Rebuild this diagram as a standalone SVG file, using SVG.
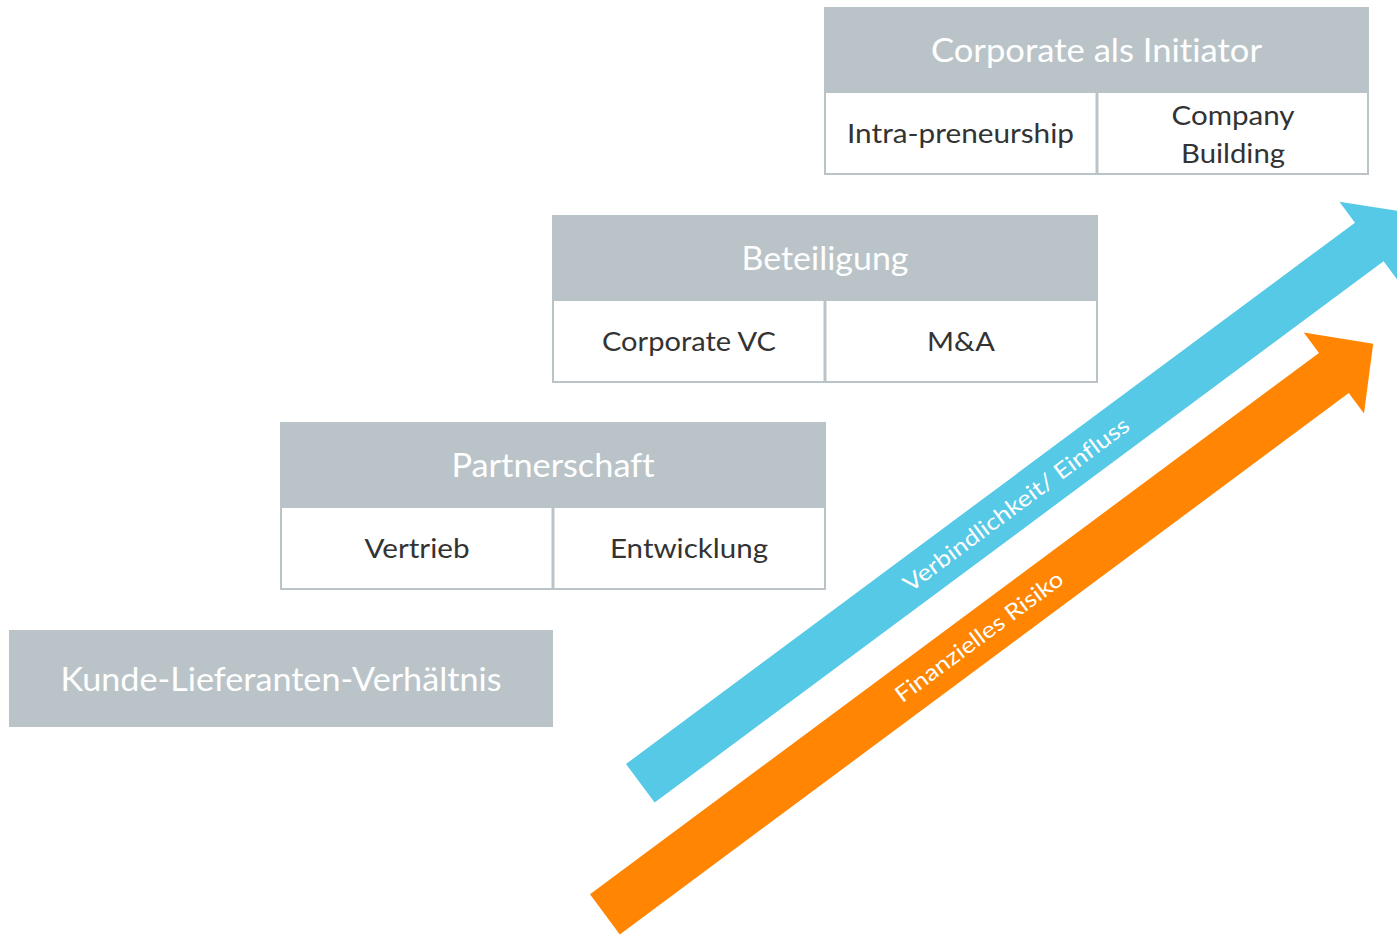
<svg xmlns="http://www.w3.org/2000/svg" width="1397" height="935" viewBox="0 0 1397 935">
  <style>
    text { font-variant-ligatures: none; }
    .head { fill: #BAC4C8; }
    .cell { fill: #FFFFFF; stroke: #BAC4C8; stroke-width: 2; }
    .div { stroke: #BAC4C8; stroke-width: 3; }
    .ttl { font-family: Lato, "Liberation Sans", sans-serif; font-size: 33px; fill: #FFFFFF; text-anchor: middle; }
    .txt { font-family: Lato, "Liberation Sans", sans-serif; font-size: 26.5px; fill: #333333; text-anchor: middle; }
    .lbl { font-family: Lato, "Liberation Sans", sans-serif; font-size: 22.5px; fill: #FFFFFF; text-anchor: middle; }
  </style>
  <rect width="1397" height="935" fill="#FFFFFF"/>

  <!-- trend arrows -->
  <g id="connectors">
    <g id="arrow-verbindlichkeit" transform="translate(626,764) rotate(-36.6)">
      <path d="M0,0 H908 V-26 L957,24 L908,74 V48 H0 Z" fill="#55C9E6"/>
      <text class="lbl" x="468" y="32" textLength="275" lengthAdjust="spacingAndGlyphs">Verbindlichkeit/ Einfluss</text>
    </g>
    <g id="arrow-risiko" transform="translate(590,894.3) rotate(-36.6)">
      <path d="M0,0 H908 V-25.5 L957,25 L908,75.5 V50 H0 Z" fill="#FF8503"/>
      <text class="lbl" x="466" y="33" textLength="203" lengthAdjust="spacingAndGlyphs">Finanzielles Risiko</text>
    </g>
  </g>

  <!-- level 4 -->
  <g id="node-corporate-initiator">
    <rect class="head" x="824" y="7" width="545" height="85"/>
    <text class="ttl" x="1096.5" y="62" textLength="331" lengthAdjust="spacingAndGlyphs">Corporate als Initiator</text>
    <rect class="cell" x="825" y="92" width="543" height="82"/>
    <line class="div" x1="1097" y1="92" x2="1097" y2="174"/>
    <text class="txt" x="960.5" y="143" textLength="227" lengthAdjust="spacingAndGlyphs">Intra-preneurship</text>
    <text class="txt" x="1233" y="125" textLength="123" lengthAdjust="spacingAndGlyphs">Company</text>
    <text class="txt" x="1233" y="163" textLength="104" lengthAdjust="spacingAndGlyphs">Building</text>
  </g>

  <!-- level 3 -->
  <g id="node-beteiligung">
    <rect class="head" x="552" y="215" width="546" height="85"/>
    <text class="ttl" x="825" y="270" textLength="167" lengthAdjust="spacingAndGlyphs">Beteiligung</text>
    <rect class="cell" x="553" y="300" width="544" height="82"/>
    <line class="div" x1="825" y1="300" x2="825" y2="382"/>
    <text class="txt" x="689" y="351" textLength="174" lengthAdjust="spacingAndGlyphs">Corporate VC</text>
    <text class="txt" x="961" y="351" textLength="68" lengthAdjust="spacingAndGlyphs">M&amp;A</text>
  </g>

  <!-- level 2 -->
  <g id="node-partnerschaft">
    <rect class="head" x="280" y="422" width="546" height="85"/>
    <text class="ttl" x="553" y="477" textLength="203" lengthAdjust="spacingAndGlyphs">Partnerschaft</text>
    <rect class="cell" x="281" y="507" width="544" height="82"/>
    <line class="div" x1="553" y1="507" x2="553" y2="589"/>
    <text class="txt" x="417" y="558" textLength="105" lengthAdjust="spacingAndGlyphs">Vertrieb</text>
    <text class="txt" x="689" y="558" textLength="158" lengthAdjust="spacingAndGlyphs">Entwicklung</text>
  </g>

  <!-- level 1 -->
  <g id="node-kunde-lieferant">
    <rect class="head" x="9" y="630" width="544" height="97"/>
    <text class="ttl" x="281" y="691" font-size="30" textLength="441" lengthAdjust="spacingAndGlyphs">Kunde-Lieferanten-Verhältnis</text>
  </g>
</svg>
